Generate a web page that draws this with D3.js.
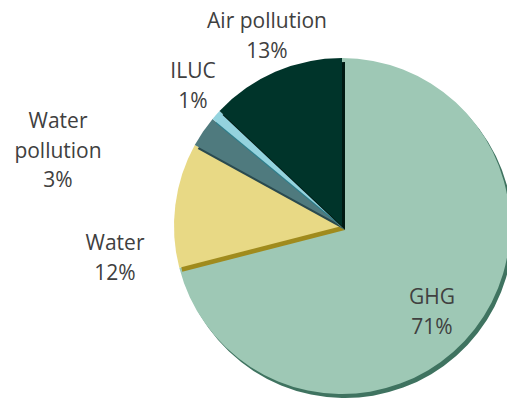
<!DOCTYPE html>
<html>
<head>
<meta charset="utf-8">
<script src="https://cdn.jsdelivr.net/npm/d3@7"></script>
<style>
  body { margin: 0; background: #fff; }
</style>
</head>
<body>
<div id="body"></div>
<script>
var categories = ["GHG", "Water", "Water pollution", "ILUC", "Air pollution"];
var shares = [71, 12, 3, 1, 13];
var labelLines = [["GHG"], ["Water"], ["Water", "pollution"], ["ILUC"], ["Air pollution"]];

var faceColors = ["#9ec8b5", "#e8d985", "#4f7a7e", "#94d3de", "#00342a"];
var shadowColors = ["#3f7360", "#a08b1d", "#2a4a4f", "#2f7f8c", "#001912"];

var width = 507;
var height = 401;
var cx = 342, cy = 226;
var radius = 168;
var shadow = { x: 3, y: 4 };

// label anchors (centre x, first baseline) relative to the pie centre
var labelPos = {
  "GHG": [90, 78],
  "Water": [-227, 24],
  "Water pollution": [-284, -98],
  "ILUC": [-149, -148],
  "Air pollution": [-75, -198]
};

var svg = d3.select("#body")
  .append("svg")
  .attr("width", width)
  .attr("height", height)
  .append("g")
  .attr("transform", "translate(" + cx + "," + cy + ")");

var data = categories.map(function(c, i) {
  return { name: c, value: shares[i], lines: labelLines[i], i: i };
});

var pie = d3.pie()
  .sort(null)
  .value(function(d) { return d.value; });

var arc = d3.arc()
  .innerRadius(0)
  .outerRadius(radius);

var slices = svg.selectAll("g.slice")
  .data(pie(data))
  .enter()
  .append("g")
  .attr("class", "slice");

slices.append("path")
  .attr("transform", "translate(" + shadow.x + "," + shadow.y + ")")
  .attr("fill", function(d) { return shadowColors[d.data.i]; })
  .attr("d", arc);

slices.append("path")
  .attr("fill", function(d) { return faceColors[d.data.i]; })
  .attr("d", arc);

var labels = svg.append("g")
  .attr("font-family", "'Open Sans', sans-serif")
  .attr("font-size", 21)
  .attr("fill", "#404040")
  .attr("text-anchor", "middle")
  .selectAll("text")
  .data(data)
  .enter()
  .append("text")
  .attr("x", function(d) { return labelPos[d.name][0]; })
  .attr("y", function(d) { return labelPos[d.name][1]; });

labels.each(function(d) {
  var t = d3.select(this);
  var lines = d.lines.concat([d3.format(".0f")(d.value) + "%"]);
  lines.forEach(function(line, k) {
    t.append("tspan")
      .attr("x", labelPos[d.name][0])
      .attr("dy", k === 0 ? 0 : 29.5)
      .text(line);
  });
});
</script>
</body>
</html>
